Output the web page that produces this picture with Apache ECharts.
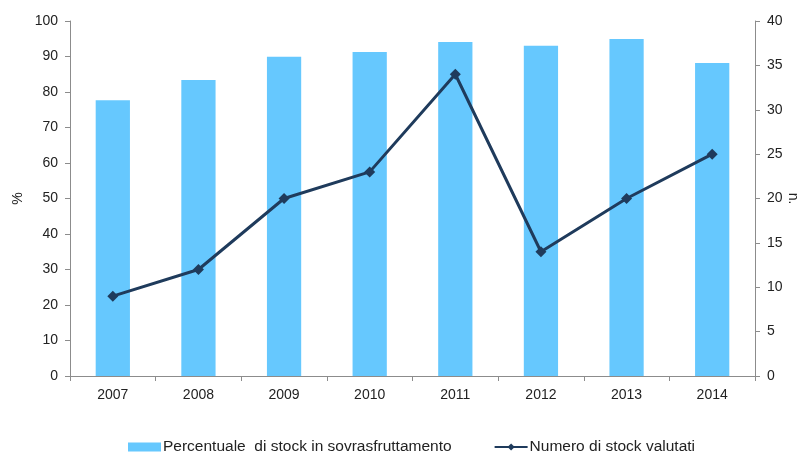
<!DOCTYPE html>
<html><head><meta charset="utf-8">
<script src="https://cdn.jsdelivr.net/npm/echarts@6/dist/echarts.min.js"></script>
<style>html,body{margin:0;padding:0;background:#fff}#c{width:808px;height:455px}</style>
</head><body><div id="c"></div>
<script>
var categories = ['2007','2008','2009','2010','2011','2012','2013','2014'];
var percentValues = [77.7, 83.4, 89.9, 91.3, 94.1, 93.0, 94.9, 88.2];
var countValues = [9, 12, 20, 23, 34, 14, 20, 25];
var percentName = 'Percentuale  di stock in sovrasfruttamento';
var countName = 'Numero di stock valutati';

var axisLine = {show:true, lineStyle:{color:'#8c8c8c', width:1}};
var txt = {color:'#222', fontFamily:'Liberation Sans', fontSize:14};
var chart = echarts.init(document.getElementById('c'));
chart.setOption({
  animation:false,
  grid:{left:70, right:53, top:21, bottom:79, outerBoundsMode:'none', containLabel:false},
  legend:{top:434, left:123, itemGap:42, itemWidth:33, itemHeight:9,
    textStyle:{color:'#222', fontFamily:'Liberation Sans', fontSize:15.5, padding:[0,0,0,-3]},
    data:[{name:percentName, icon:'rect'}, {name:countName}]},
  xAxis:{type:'category', data:categories, axisLine:axisLine,
    axisTick:{show:true, alignWithLabel:false, length:5, lineStyle:{color:'#8c8c8c'}},
    axisLabel:Object.assign({margin:12}, txt)},
  yAxis:[
    {type:'value', min:0, max:100, interval:10, name:'%', nameLocation:'middle', nameGap:45, nameRotate:90,
     nameMoveOverlap:false,
     nameTextStyle:txt, axisLine:axisLine, axisTick:{show:true, length:5, lineStyle:{color:'#8c8c8c'}},
     splitLine:{show:false}, axisLabel:Object.assign({margin:12}, txt)},
    {type:'value', min:0, max:40, interval:5, name:'n.', nameLocation:'middle', nameGap:31, nameRotate:-90,
     nameMoveOverlap:false,
     nameTextStyle:txt, axisLine:axisLine, axisTick:{show:true, length:5, lineStyle:{color:'#8c8c8c'}},
     splitLine:{show:false}, axisLabel:Object.assign({margin:12}, txt)}
  ],
  series:[
    {name:percentName, type:'bar', data:percentValues, barWidth:'40%', itemStyle:{color:'#66c8fe'}},
    {name:countName, type:'line', yAxisIndex:1, data:countValues, symbol:'diamond', symbolSize:11,
     lineStyle:{color:'#1f3b5c', width:3}, itemStyle:{color:'#1f3b5c'}}
  ]
});
</script></body></html>
